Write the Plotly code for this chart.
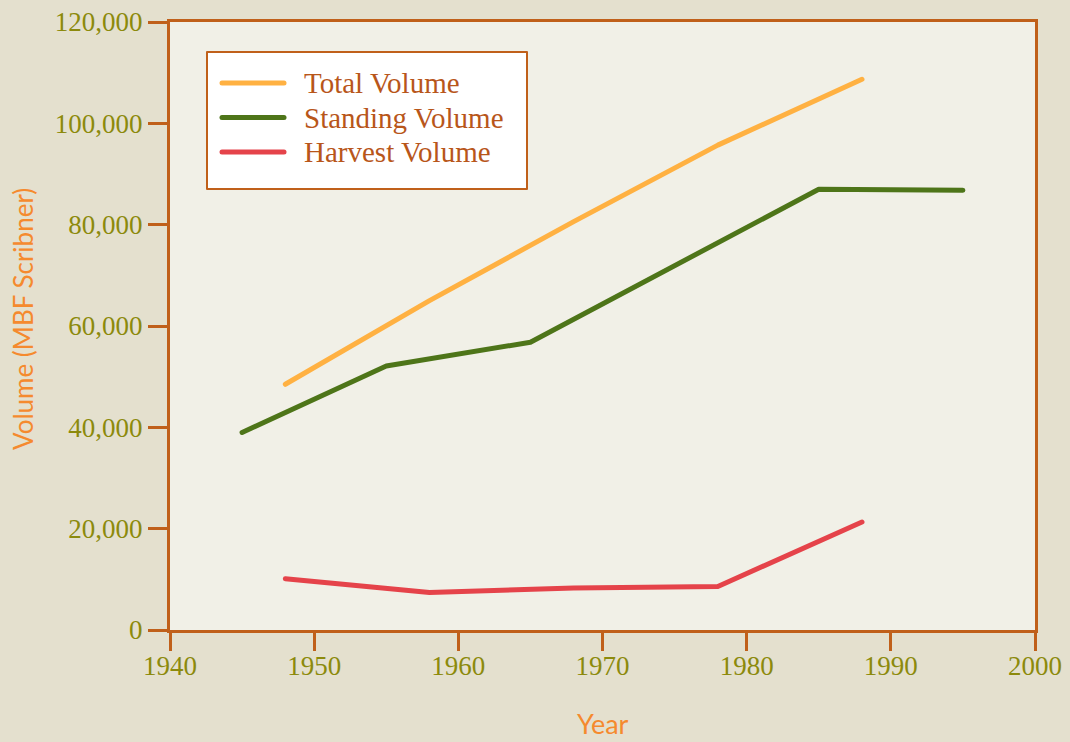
import plotly.graph_objects as go

# Data
total_years = [1948, 1958, 1968, 1978, 1988]
total_volume = [48500, 65000, 80600, 95700, 108700]

standing_years = [1945, 1955, 1965, 1985, 1995]
standing_volume = [39000, 52100, 56800, 87000, 86800]

harvest_years = [1948, 1958, 1968, 1978, 1988]
harvest_volume = [10100, 7400, 8300, 8600, 21300]

series_names = ["Total Volume", "Standing Volume", "Harvest Volume"]
series_colors = ["#FFB142", "#4E7519", "#E5434A"]

x_ticks = [1940, 1950, 1960, 1970, 1980, 1990, 2000]
y_ticks = [0, 20000, 40000, 60000, 80000, 100000, 120000]

AXIS_COLOR = "#C0601A"
TICK_COLOR = "#8C8A0C"
TITLE_COLOR = "#F58A2E"
LEGEND_TEXT = "#B8561A"
SERIF = "Liberation Serif, DejaVu Serif, serif"
SANS = "Lato, Open Sans, sans-serif"

fig = go.Figure()
for xs, ys, name, col in [
    (total_years, total_volume, series_names[0], series_colors[0]),
    (standing_years, standing_volume, series_names[1], series_colors[1]),
    (harvest_years, harvest_volume, series_names[2], series_colors[2]),
]:
    fig.add_trace(go.Scatter(x=xs, y=ys, mode="lines", name=name,
                             line=dict(color=col, width=5),
                             showlegend=False))

W, H = 1070, 742
ml, mr, mt, mb = 170, 35, 22, 112
pw, ph = W - ml - mr, H - mt - mb

def px_to_paper(x, y):
    return (x - ml) / pw, 1 - (y - mt) / ph

shapes = []
annotations = []
# legend box
x0, y0 = px_to_paper(207, 52)
x1, y1 = px_to_paper(527, 189)
shapes.append(dict(type="rect", xref="paper", yref="paper", x0=x0, y0=y1, x1=x1, y1=y0,
                   line=dict(color=AXIS_COLOR, width=2), fillcolor="white", layer="below"))
for i, (name, col) in enumerate(zip(series_names, series_colors)):
    yy = 83 + i * 34.5
    lx0, ly = px_to_paper(222, yy)
    lx1, _ = px_to_paper(284, yy)
    shapes.append(dict(type="line", xref="paper", yref="paper", x0=lx0, x1=lx1, y0=ly, y1=ly,
                       line=dict(color=col, width=5)))
    tx, ty = px_to_paper(302, yy)
    annotations.append(dict(text=name, xref="paper", yref="paper", x=tx, y=ty,
                            xanchor="left", yanchor="middle", showarrow=False,
                            font=dict(family=SERIF, size=29, color=LEGEND_TEXT)))

# axis titles
annotations.append(dict(text="Year", xref="paper", yref="paper",
                        x=px_to_paper(603, 0)[0], y=px_to_paper(0, 723)[1],
                        xanchor="center", yanchor="middle", showarrow=False,
                        font=dict(family=SANS, size=27, color=TITLE_COLOR)))
annotations.append(dict(text="Volume (MBF Scribner)", xref="paper", yref="paper",
                        x=px_to_paper(23, 0)[0], y=px_to_paper(0, 319)[1],
                        xanchor="center", yanchor="middle", showarrow=False, textangle=-90,
                        font=dict(family=SANS, size=26, color=TITLE_COLOR)))

fig.update_layout(
    width=W, height=H,
    margin=dict(l=ml, r=mr, t=mt, b=mb),
    paper_bgcolor="#E4E0CE",
    plot_bgcolor="#F1F0E7",
    shapes=shapes,
    annotations=annotations,
    xaxis=dict(range=[1940, 2000], tickvals=x_ticks, ticktext=[str(v) for v in x_ticks],
               showgrid=False, zeroline=False, showline=True, mirror=True, automargin=False,
               linecolor=AXIS_COLOR, linewidth=3, ticks="outside", ticklen=18,
               tickwidth=3, tickcolor=AXIS_COLOR, ticklabelstandoff=-8,
               tickfont=dict(family=SERIF, size=27, color=TICK_COLOR)),
    yaxis=dict(range=[0, 120000], tickvals=y_ticks, tickformat=",",
               showgrid=False, zeroline=False, showline=True, mirror=True, automargin=False,
               linecolor=AXIS_COLOR, linewidth=3, ticks="outside", ticklen=19,
               tickwidth=3, tickcolor=AXIS_COLOR,
               tickfont=dict(family=SERIF, size=27, color=TICK_COLOR)),
)

post = """
document.body.style.margin = '0';
document.body.style.background = '#E4E0CE';
var st = document.createElement('style');
st.textContent = '.scatterlayer path.js-line, .shapelayer path { stroke-linecap: round !important; stroke-linejoin: round !important; }';
document.head.appendChild(st);
"""
fig.write_html("out.html", post_script=post, config={"displayModeBar": False})
